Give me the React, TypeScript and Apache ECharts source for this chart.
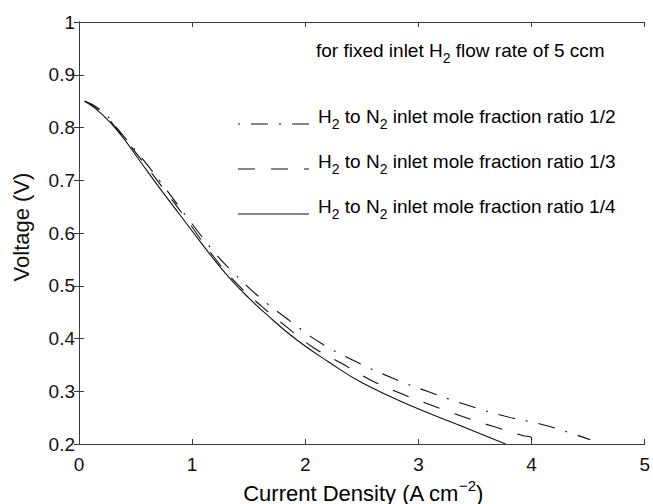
import React, { useEffect, useRef } from "react";
import * as echarts from "echarts";

// Current density (A cm^-2) and voltage (V) for each H2:N2 inlet ratio
const currentHalf = [0.05, 0.2, 0.35, 0.57, 0.78, 0.99, 1.21, 1.36, 1.58, 1.86, 2.14, 2.45, 2.77, 3.09, 3.43, 3.76, 4.11, 4.44, 4.52];
const voltageHalf = [0.85, 0.832, 0.795, 0.738, 0.68, 0.62, 0.56, 0.526, 0.481, 0.434, 0.391, 0.356, 0.325, 0.299, 0.274, 0.253, 0.236, 0.214, 0.208];

const currentThird = [0.05, 0.2, 0.35, 0.55, 0.75, 0.95, 1.18, 1.4, 1.62, 1.84, 2.07, 2.32, 2.58, 2.84, 3.11, 3.39, 3.65, 3.92, 4.0, 4.0];
const voltageThird = [0.85, 0.829, 0.793, 0.739, 0.683, 0.626, 0.558, 0.503, 0.46, 0.421, 0.383, 0.353, 0.321, 0.296, 0.274, 0.252, 0.234, 0.216, 0.211, 0.2];

const currentQuarter = [0.05, 0.2, 0.36, 0.54, 0.71, 0.89, 1.07, 1.2, 1.35, 1.5, 1.65, 1.92, 2.21, 2.51, 2.95, 3.39, 3.77];
const voltageQuarter = [0.85, 0.826, 0.789, 0.736, 0.686, 0.635, 0.584, 0.548, 0.51, 0.477, 0.447, 0.398, 0.355, 0.315, 0.271, 0.233, 0.2];

const seriesNames = [
  "H2 to N2 inlet mole fraction ratio 1/2",
  "H2 to N2 inlet mole fraction ratio 1/3",
  "H2 to N2 inlet mole fraction ratio 1/4",
];
const ratioLabels = ["1/2", "1/3", "1/4"];

const xMin = 0, xMax = 5, xStep = 1;
const yMin = 0.2, yMax = 1, yStep = 0.1;

const FONT = "'Liberation Sans', Arial, Helvetica, sans-serif";
const INK = "#111";
const AXIS = "#3a3a3a";
const DASHDOT = [17, 11, 2, 11];
const DASHED = [17, 16];

const pair = (xs: number[], ys: number[]) => xs.map((x, i) => [x, ys[i]]);

const richMain = { fontSize: 19, fontFamily: FONT, color: INK, lineHeight: 30, verticalAlign: "middle" };
const richSub = { fontSize: 14, fontFamily: FONT, color: INK, lineHeight: 13, verticalAlign: "bottom" };

export default function App() {
  const ref = useRef<HTMLDivElement>(null);
  useEffect(() => {
    if (!ref.current) return;
    const chart = echarts.init(ref.current, null, { renderer: "svg" });

    const legendRows = [
      { y: 116, dash: DASHDOT, offset: 28 },
      { y: 161, dash: DASHED, offset: 0 },
      { y: 206, dash: null as any, offset: 0 },
    ];

    const graphics: any[] = [
      {
        type: "text",
        x: 316,
        y: 50,
        z: 10,
        style: {
          text: "{m|for fixed inlet H}{s|2}{m| flow rate of 5 ccm}",
          rich: { m: richMain, s: richSub },
          align: "left",
          verticalAlign: "middle",
        },
      },
      {
        type: "text",
        x: 363,
        y: 493,
        z: 10,
        style: {
          text: "{m|Current Density (A cm}{s|\u22122}{m|)}",
          rich: {
            m: { fontSize: 22, fontFamily: FONT, color: INK, lineHeight: 30, verticalAlign: "middle" },
            s: { fontSize: 15, fontFamily: FONT, color: INK, lineHeight: 6, verticalAlign: "top" },
          },
          align: "center",
          verticalAlign: "middle",
        },
      },
      {
        type: "text",
        x: 21,
        y: 227,
        rotation: Math.PI / 2,
        z: 10,
        style: {
          text: "Voltage (V)",
          fontSize: 22,
          fontFamily: FONT,
          fill: INK,
          align: "center",
          verticalAlign: "middle",
        },
      },
    ];

    legendRows.forEach((row, i) => {
      graphics.push({
        type: "line",
        z: 10,
        shape: { x1: 238, y1: row.y + 8, x2: 309, y2: row.y + 8 },
        style: {
          stroke: INK,
          lineWidth: 1.2,
          lineDash: row.dash || undefined,
          lineDashOffset: row.offset,
        },
      });
      graphics.push({
        type: "text",
        x: 318,
        y: row.y,
        z: 10,
        style: {
          text: `{m|H}{s|2}{m| to N}{s|2}{m| inlet mole fraction ratio ${ratioLabels[i]}}`,
          rich: { m: richMain, s: richSub },
          align: "left",
          verticalAlign: "middle",
        },
      });
    });

    const baseX = {
      type: "value",
      min: xMin,
      max: xMax,
      interval: xStep,
      splitLine: { show: false },
      axisLine: { show: true, lineStyle: { color: AXIS, width: 1 } },
      axisTick: { show: true, inside: true, length: 5, lineStyle: { color: AXIS } },
    };
    const baseY = {
      type: "value",
      min: yMin,
      max: yMax,
      interval: yStep,
      splitLine: { show: false },
      axisLine: { show: true, lineStyle: { color: AXIS, width: 1 } },
      axisTick: { show: true, inside: true, length: 5, lineStyle: { color: AXIS } },
    };

    chart.setOption({
      animation: false,
      backgroundColor: "#fff",
      grid: { left: 79, right: 6, top: 22, bottom: 60, containLabel: false },
      xAxis: [
        {
          ...baseX,
          position: "bottom",
          axisLabel: { show: true, fontSize: 19, fontFamily: FONT, color: INK, margin: 11 },
        },
        { ...baseX, position: "top", axisLabel: { show: false } },
      ],
      yAxis: [
        {
          ...baseY,
          position: "left",
          axisLabel: {
            show: true,
            fontSize: 19,
            fontFamily: FONT,
            color: INK,
            margin: 4,
            formatter: (v: number) => String(+v.toFixed(1)),
          },
        },
        { ...baseY, position: "right", axisLabel: { show: false } },
      ],
      series: [
        {
          name: seriesNames[0],
          type: "line",
          data: pair(currentHalf, voltageHalf),
          showSymbol: false,
          symbol: "none",
          smooth: 0.45,
          lineStyle: { color: INK, width: 1.1, type: DASHDOT },
        },
        {
          name: seriesNames[1],
          type: "line",
          data: pair(currentThird, voltageThird),
          showSymbol: false,
          symbol: "none",
          smooth: 0.45,
          lineStyle: { color: INK, width: 1.1, type: DASHED },
        },
        {
          name: seriesNames[2],
          type: "line",
          data: pair(currentQuarter, voltageQuarter),
          showSymbol: false,
          symbol: "none",
          smooth: 0.45,
          lineStyle: { color: INK, width: 1.1, type: "solid" },
        },
      ],
      graphic: graphics,
    });
    return () => chart.dispose();
  }, []);
  return (
    <div
      ref={ref}
      style={{ position: "fixed", left: 0, top: 0, width: 653, height: 504, background: "#fff" }}
    />
  );
}
